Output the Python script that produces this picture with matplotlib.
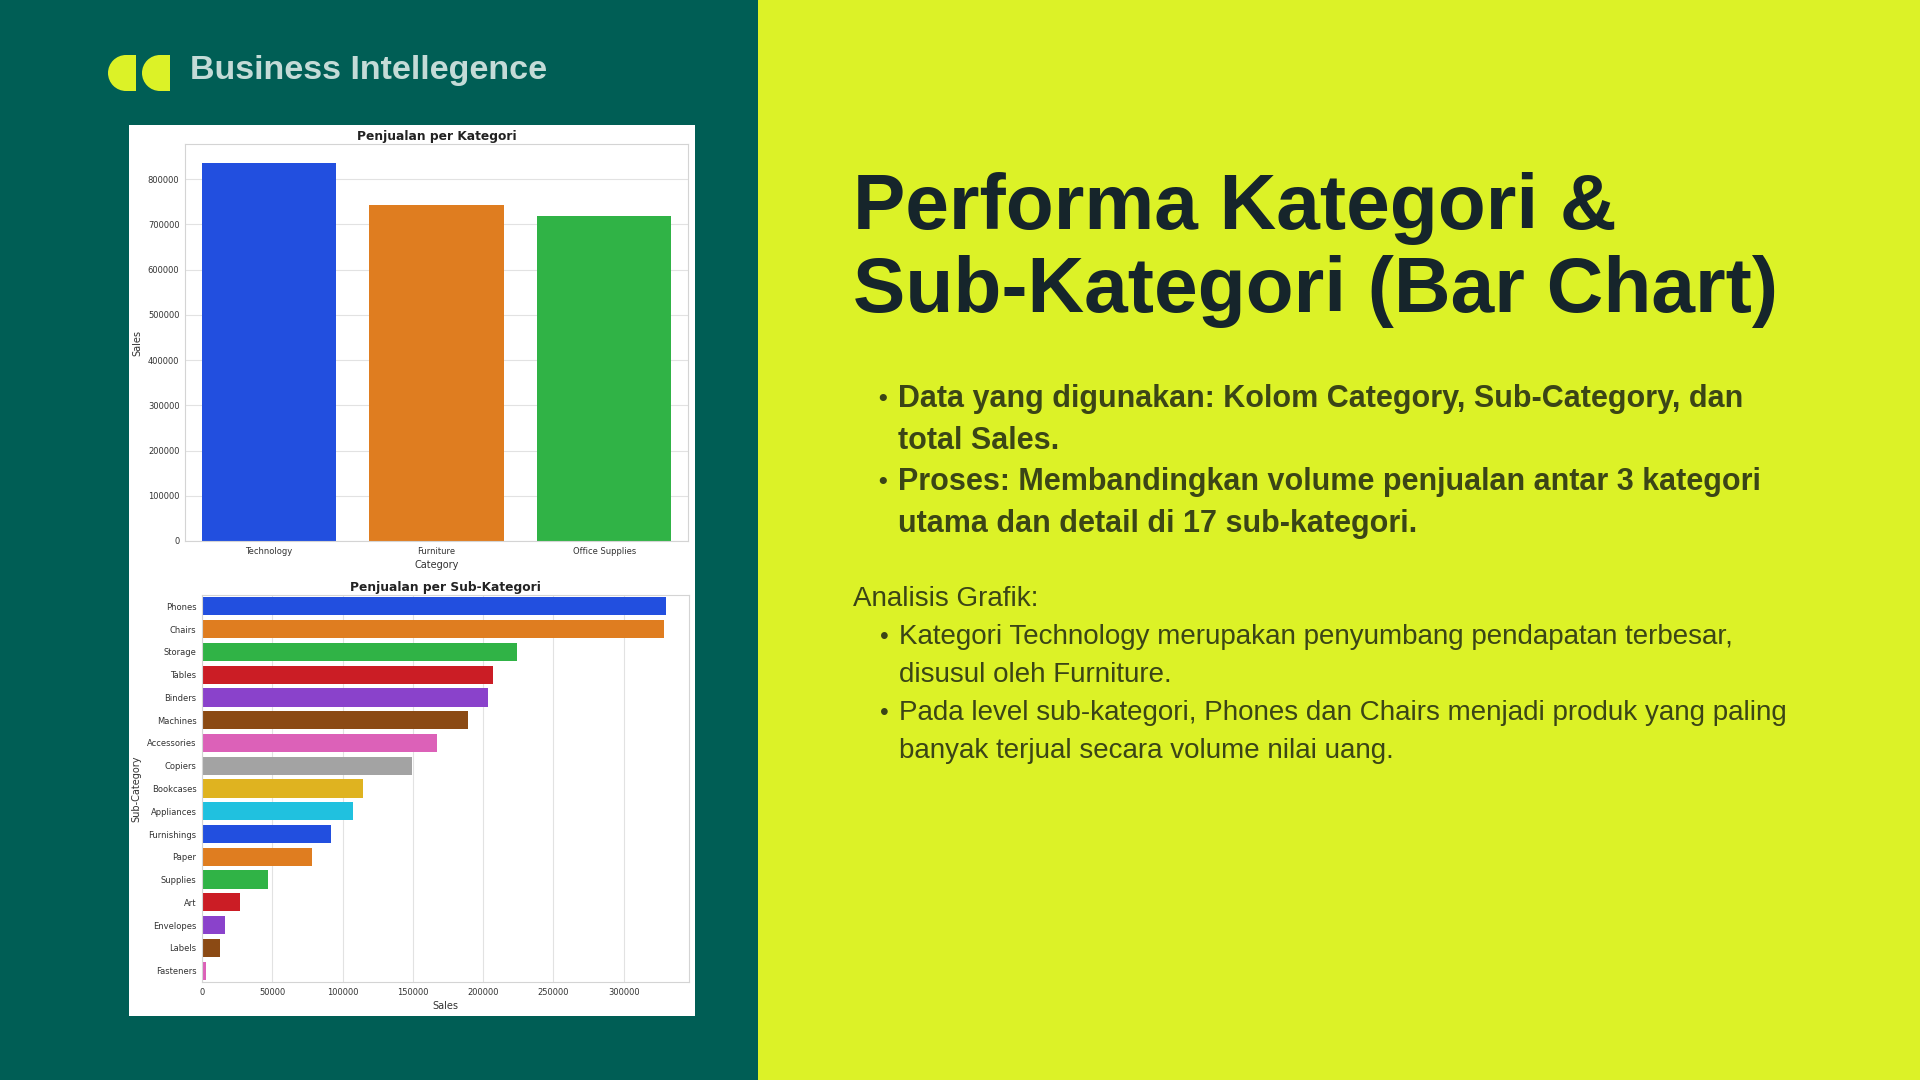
import matplotlib
matplotlib.use("Agg")
import matplotlib.pyplot as plt
from matplotlib.patches import Rectangle, Wedge
import seaborn as sns

# ---- data (Superstore totals) ----
categories = ["Technology", "Furniture", "Office Supplies"]
category_sales = [836154, 741999, 719047]

sub_categories = ["Phones", "Chairs", "Storage", "Tables", "Binders", "Machines",
                  "Accessories", "Copiers", "Bookcases", "Appliances", "Furnishings",
                  "Paper", "Supplies", "Art", "Envelopes", "Labels", "Fasteners"]
sub_sales = [330007, 328449, 223844, 206966, 203413, 189239, 167380, 149528,
             114880, 107532, 91705, 78479, 46674, 27119, 16476, 12486, 3024]

TEAL = "#005e55"
LIME = "#dcf227"
NAVY = "#16252b"
OLIVE = "#3b4516"
W, H = 1920, 1080
TF = "Liberation Sans"


def fx(x):
    return x / W


def fy(y):
    return 1 - y / H


def style(ax):
    ax.set_facecolor("white")
    for s in ax.spines.values():
        s.set_color("#d4d4d4")
        s.set_linewidth(0.8)
    ax.tick_params(length=0, labelsize=6.0, colors="#333333", pad=4)
    ax.set_axisbelow(True)


fig = plt.figure(figsize=(19.2, 10.8), dpi=100)
fig.patch.set_facecolor(LIME)

# background canvas in pixel units (y down)
bg = fig.add_axes([0, 0, 1, 1], zorder=0)
bg.set_xlim(0, W)
bg.set_ylim(H, 0)
bg.axis("off")
bg.add_patch(Rectangle((0, 0), 758, H, facecolor=TEAL, edgecolor="none"))

# logo: two half-round tabs
for x0 in (108, 142):
    r = 18
    cy = 73
    bg.add_patch(Wedge((x0 + r, cy), r, 90, 270, facecolor=LIME, edgecolor="none"))
    bg.add_patch(Rectangle((x0 + r - 0.5, cy - r), 10.5, 2 * r, facecolor=LIME, edgecolor="none"))
bg.text(190, 70, "Business Intellegence", fontsize=24.5, weight="bold",
        color="#c4dbd7", family=TF, va="center", ha="left")

# white card behind the charts
bg.add_patch(Rectangle((129, 125), 695 - 129, 1016 - 125, facecolor="white", edgecolor="none"))

# ---- top chart: sales per category ----
ax1 = fig.add_axes([fx(185), fy(541), fx(688 - 185), (541 - 144) / H], zorder=2)
style(ax1)
sns.barplot(x=categories, y=category_sales, hue=categories, palette="bright",
            legend=False, ax=ax1, width=0.8)
ax1.yaxis.grid(True, color="#e2e2e2", lw=0.8)
ax1.xaxis.grid(False)
ax1.set_yticks(range(0, 900000, 100000))
ax1.set_yticklabels([str(v) for v in range(0, 900000, 100000)])
ax1.set_title("Penjualan per Kategori", fontsize=8.8, weight="bold", color="#222222", pad=3)
ax1.set_xlabel("Category", fontsize=7, color="#333333", labelpad=3)
ax1.set_ylabel("Sales", fontsize=7, color="#333333", labelpad=4)

# ---- bottom chart: sales per sub-category ----
ax2 = fig.add_axes([fx(202), fy(982), fx(689 - 202), (982 - 595) / H], zorder=2)
style(ax2)
sns.barplot(x=sub_sales, y=sub_categories, hue=sub_categories, palette="bright",
            legend=False, ax=ax2, orient="h", width=0.8)
ax2.xaxis.grid(True, color="#e2e2e2", lw=0.8)
ax2.yaxis.grid(False)
ax2.set_xticks(range(0, 350000, 50000))
ax2.set_xticklabels([str(v) for v in range(0, 350000, 50000)])
ax2.set_title("Penjualan per Sub-Kategori", fontsize=8.8, weight="bold", color="#222222", pad=3)
ax2.set_xlabel("Sales", fontsize=7, color="#333333", labelpad=3)
ax2.set_ylabel("Sub-Category", fontsize=7, color="#333333", labelpad=4)

# ---- right side text ----
bg.text(853, 229, "Performa Kategori &", fontsize=56.5, weight="bold",
        color=NAVY, family=TF, va="baseline")
bg.text(853, 312, "Sub-Kategori (Bar Chart)", fontsize=56.5, weight="bold",
        color=NAVY, family=TF, va="baseline")

bold_lines = [(399, True, "Data yang digunakan: Kolom Category, Sub-Category, dan"),
              (441, False, "total Sales."),
              (482, True, "Proses: Membandingkan volume penjualan antar 3 kategori"),
              (524, False, "utama dan detail di 17 sub-kategori.")]
for y, bullet, t in bold_lines:
    if bullet:
        bg.text(878, y, "•", fontsize=18, weight="bold", color=OLIVE,
                family=TF, va="center")
    bg.text(898, y, t, fontsize=22, weight="bold", color=OLIVE,
            family=TF, va="center")

bg.text(853, 599, "Analisis Grafik:", fontsize=20, color=OLIVE,
        family=TF, va="center")
reg_lines = [(637, True, "Kategori Technology merupakan penyumbang pendapatan terbesar,"),
             (675, False, "disusul oleh Furniture."),
             (713, True, "Pada level sub-kategori, Phones dan Chairs menjadi produk yang paling"),
             (751, False, "banyak terjual secara volume nilai uang.")]
for y, bullet, t in reg_lines:
    if bullet:
        bg.text(880, y, "•", fontsize=18, color=OLIVE, family=TF, va="center")
    bg.text(899, y, t, fontsize=20, color=OLIVE, family=TF, va="center")

fig.savefig("out.png", dpi=100, facecolor=fig.get_facecolor())
